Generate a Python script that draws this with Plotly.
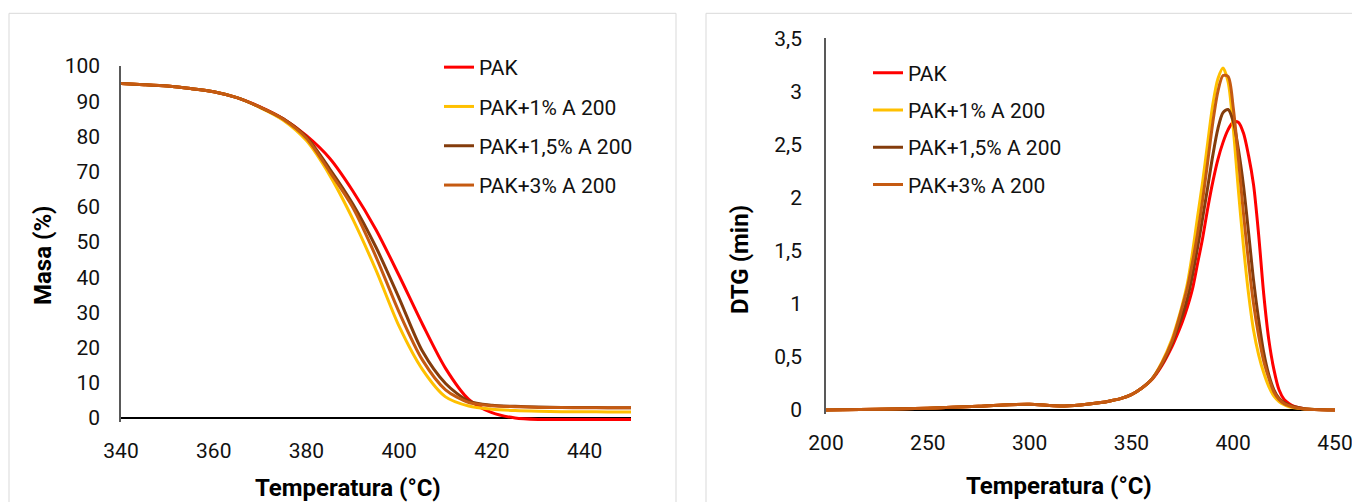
import plotly.graph_objects as go

# ---------------- data ----------------
series_names = ["PAK", "PAK+1% A 200", "PAK+1,5% A 200", "PAK+3% A 200"]
series_colors = ["#FF0000", "#FFC000", "#843C0C", "#C55A11"]

# TGA (left chart)
temp_tga = [340, 345, 350, 355, 360, 365, 370, 375, 380, 385, 390, 395, 400,
            405, 410, 415, 420, 425, 430, 435, 440, 445, 450]
tga_pak = [95.0, 94.7, 94.3, 93.6, 92.7, 91.0, 88.4, 85.0, 80.2, 73.8, 64.5, 53.5, 40.4,
           26.7, 14.1, 5.3, 1.5, 0.0, -0.4, -0.4, -0.4, -0.4, -0.4]
tga_1 = [95.0, 94.7, 94.3, 93.6, 92.7, 91.0, 88.2, 84.6, 78.8, 69.0, 56.5, 42.0, 26.0,
         13.8, 6.0, 3.4, 2.5, 2.1, 1.9, 1.8, 1.8, 1.7, 1.7]
tga_15 = [95.0, 94.7, 94.3, 93.6, 92.7, 91.0, 88.3, 85.0, 79.8, 70.8, 60.8, 48.5, 34.0,
          19.0, 9.8, 4.8, 3.6, 3.3, 3.1, 3.0, 3.0, 2.9, 2.9]
tga_3 = [95.0, 94.7, 94.3, 93.6, 92.7, 91.0, 88.3, 84.9, 79.5, 70.0, 59.8, 45.8, 30.0,
         16.5, 8.0, 4.4, 3.5, 3.2, 3.0, 2.95, 2.9, 2.9, 2.9]

# DTG (right chart)
temp_dtg = [200, 225, 250, 275, 290, 300, 315, 325, 335, 340, 345, 350, 355, 360,
            365, 370, 372.5, 375, 377.5, 380, 382.5, 385, 387.5, 390, 392.5, 395,
            397.5, 400, 402.5, 405, 407.5, 410, 412.5, 415, 417.5, 420, 422.5, 425,
            427.5, 430, 435, 440, 450]
dtg_pak = [0.0, 0.006, 0.017, 0.035, 0.05, 0.054, 0.038, 0.048, 0.07, 0.088, 0.11, 0.145, 0.205, 0.285,
           0.42, 0.6, 0.71, 0.83, 0.97, 1.14, 1.38, 1.62, 1.9, 2.15, 2.36, 2.52,
           2.64, 2.71, 2.71, 2.61, 2.4, 2.12, 1.65, 1.09, 0.66, 0.38, 0.19, 0.1,
           0.06, 0.035, 0.012, 0.004, 0.0]
dtg_1 = [0.0, 0.006, 0.017, 0.035, 0.05, 0.054, 0.038, 0.048, 0.07, 0.088, 0.11, 0.145, 0.205, 0.29,
         0.45, 0.67, 0.82, 0.99, 1.19, 1.48, 1.82, 2.15, 2.52, 2.88, 3.12, 3.22,
         3.09, 2.66, 2.08, 1.55, 1.1, 0.75, 0.52, 0.35, 0.22, 0.13, 0.08, 0.05,
         0.03, 0.02, 0.01, 0.005, 0.0]
dtg_15 = [0.0, 0.006, 0.017, 0.035, 0.05, 0.054, 0.038, 0.048, 0.07, 0.088, 0.11, 0.145, 0.205, 0.29,
          0.43, 0.63, 0.76, 0.89, 1.05, 1.27, 1.53, 1.81, 2.1, 2.4, 2.65, 2.8,
          2.83, 2.72, 2.46, 2.12, 1.68, 1.22, 0.85, 0.54, 0.33, 0.19, 0.11, 0.07,
          0.045, 0.03, 0.012, 0.005, 0.0]
dtg_3 = [0.0, 0.006, 0.017, 0.035, 0.05, 0.054, 0.038, 0.048, 0.07, 0.088, 0.11, 0.145, 0.205, 0.29,
         0.44, 0.65, 0.8, 0.97, 1.15, 1.39, 1.66, 1.98, 2.34, 2.71, 3.0, 3.15,
         3.14, 2.85, 2.38, 1.86, 1.4, 1.0, 0.7, 0.46, 0.3, 0.17, 0.1, 0.06,
         0.04, 0.025, 0.01, 0.005, 0.0]

tga_ticks = [340, 360, 380, 400, 420, 440]
masa_ticks = [0, 10, 20, 30, 40, 50, 60, 70, 80, 90, 100]
dtg_xticks = [200, 250, 300, 350, 400, 450]
dtg_yticks = [0, 0.5, 1, 1.5, 2, 2.5, 3, 3.5]
dtg_ytext = ["0", "0,5", "1", "1,5", "2", "2,5", "3", "3,5"]

# ---------------- figure ----------------
# The page body has an 8 px margin, so positions below are given in screen
# pixels and shifted by that margin.
OFF = 8
W, H = 1360, 502
FONT = "Roboto, Arial, sans-serif"
TICK_SIZE = 21
TITLE_SIZE = 24


def px(x):
    return (x - OFF) / W


def py(y):
    return (H - (y - OFF)) / H


fig = go.Figure()
tga_series = [tga_pak, tga_1, tga_15, tga_3]
dtg_series = [dtg_pak, dtg_1, dtg_15, dtg_3]

for i, (name, col) in enumerate(zip(series_names, series_colors)):
    fig.add_trace(go.Scatter(
        x=temp_tga, y=tga_series[i], mode="lines", name=name,
        line=dict(color=col, width=3, shape="spline", smoothing=0.8),
        xaxis="x", yaxis="y", legend="legend", legendgroup=f"L{i}",
    ))
for i, (name, col) in enumerate(zip(series_names, series_colors)):
    fig.add_trace(go.Scatter(
        x=temp_dtg, y=dtg_series[i], mode="lines", name=name,
        line=dict(color=col, width=3, shape="spline", smoothing=0.8),
        xaxis="x2", yaxis="y2", legend="legend2", legendgroup=f"R{i}",
    ))

tickfont = dict(family=FONT, size=TICK_SIZE, color="#111111")
legfont = dict(family=FONT, size=TICK_SIZE, color="#111111")

fig.update_layout(
    template="none",
    width=W, height=H,
    margin=dict(l=0, r=0, t=0, b=0, autoexpand=False),
    paper_bgcolor="white", plot_bgcolor="white",
    showlegend=True,
    xaxis=dict(domain=[px(121), px(631)], range=[340, 450], tickvals=tga_ticks,
               showline=False, showgrid=False, zeroline=False, ticks="",
               tickfont=tickfont, anchor="y", ticklabelstandoff=14, automargin=False),
    yaxis=dict(domain=[py(422.2), py(66)], range=[-1.2, 100], tickvals=masa_ticks,
               showline=True, linecolor="#595959", linewidth=1.5,
               showgrid=False, zeroline=True, zerolinecolor="#000000", zerolinewidth=1.5,
               ticks="", tickfont=tickfont, anchor="x", ticklabelstandoff=15, automargin=False),
    xaxis2=dict(domain=[px(826), px(1335)], range=[200, 450], tickvals=dtg_xticks,
                showline=False, showgrid=False, zeroline=False, ticks="",
                tickfont=tickfont, anchor="y2", ticklabelstandoff=14, automargin=False),
    yaxis2=dict(domain=[py(414.25), py(38.3)], range=[-0.04, 3.5], tickvals=dtg_yticks,
                ticktext=dtg_ytext,
                showline=True, linecolor="#595959", linewidth=1.5,
                showgrid=False, zeroline=True, zerolinecolor="#000000", zerolinewidth=1.5,
                ticks="", tickfont=tickfont, anchor="x2", ticklabelstandoff=18, automargin=False),
    legend=dict(x=px(439), y=py(47), xanchor="left", yanchor="top",
                bgcolor="rgba(0,0,0,0)", font=legfont, tracegroupgap=9,
                itemwidth=30, borderwidth=0),
    legend2=dict(x=px(868), y=py(52.5), xanchor="left", yanchor="top",
                 bgcolor="rgba(0,0,0,0)", font=legfont, tracegroupgap=7,
                 itemwidth=30, borderwidth=0),
)

title_font = dict(family=FONT, size=TITLE_SIZE, color="#000000", weight="bold")
annots = [
    dict(text="Masa (%)", x=px(43), y=py(255), textangle=-90),
    dict(text="Temperatura (°C)", x=px(348), y=py(488), textangle=0),
    dict(text="DTG (min)", x=px(740), y=py(260), textangle=-90),
    dict(text="Temperatura (°C)", x=px(1059), y=py(486), textangle=0),
]
for a in annots:
    fig.add_annotation(xref="paper", yref="paper", showarrow=False,
                       xanchor="center", yanchor="middle", font=title_font, **a)

# chart area borders
fig.add_shape(type="rect", xref="paper", yref="paper",
              x0=px(9), x1=px(676), y0=-0.05, y1=py(13.3),
              line=dict(color="#D9D9D9", width=1), layer="below")
fig.add_shape(type="rect", xref="paper", yref="paper",
              x0=px(706), x1=1.05, y0=-0.05, y1=py(13.3),
              line=dict(color="#D9D9D9", width=1), layer="below")

fig.write_html("out.html")
